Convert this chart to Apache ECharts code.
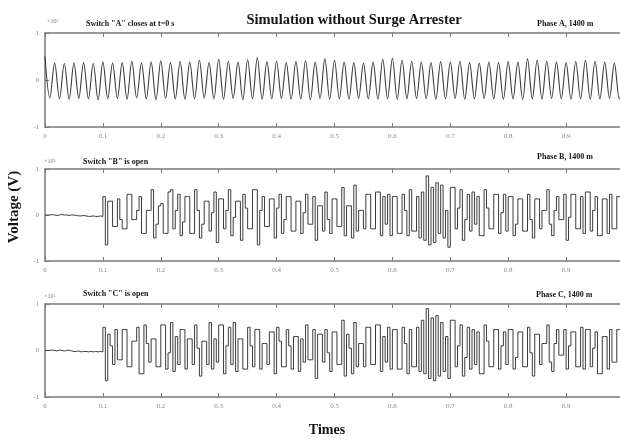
<!DOCTYPE html>
<html><head><meta charset="utf-8">
<script src="https://cdn.jsdelivr.net/npm/echarts@6/dist/echarts.min.js"></script>
<style>html,body{margin:0;padding:0;background:#fff}#c{width:620px;height:440px}</style>
</head><body><div id="c"></div>
<script>
// Phase A: extrema every half-cycle (60 Hz -> 1/120 s), units x10^5 V
const phaseA = [
0.50,-0.38,0.36,-0.40,0.35,-0.41,0.36,-0.39,0.37,-0.40,0.35,-0.42,
0.38,-0.40,0.36,-0.39,0.37,-0.41,0.40,-0.38,0.36,-0.40,0.38,-0.42,
0.41,-0.39,0.37,-0.40,0.39,-0.41,0.38,-0.40,0.42,-0.38,0.37,-0.40,
0.44,-0.41,0.40,-0.39,0.38,-0.42,0.43,-0.40,0.47,-0.41,0.39,-0.40,
0.40,-0.39,0.37,-0.41,0.39,-0.40,0.41,-0.42,0.38,-0.39,0.45,-0.41,
0.42,-0.40,0.38,-0.41,0.37,-0.39,0.36,-0.40,0.38,-0.41,0.44,-0.40,
0.46,-0.41,0.42,-0.40,0.40,-0.39,0.38,-0.40,0.37,-0.41,0.39,-0.40,
0.38,-0.39,0.40,-0.41,0.37,-0.40,0.36,-0.39,0.38,-0.40,0.37,-0.41,
0.39,-0.40,0.38,-0.42,0.45,-0.40,0.42,-0.41,0.40,-0.39,0.38,-0.40,
0.37,-0.41,0.39,-0.40,0.42,-0.41,0.40,-0.40,0.38,-0.39,0.36,-0.40,
0.38
];
// Phase B: held levels every 1/240 s, units x10^5 V
const phaseB = [
0.00,0.00,0.01,0.00,-0.01,0.00,0.01,0.00,0.00,-0.01,0.00,0.00,-0.01,-0.02,-0.02,-0.01,-0.02,-0.03,-0.03,-0.02,-0.03,-0.03,-0.02,-0.03,
0.40,-0.65,0.30,0.30,-0.25,-0.25,0.35,-0.10,-0.30,-0.30,0.45,0.45,-0.10,-0.10,0.10,0.40,-0.40,-0.40,0.10,0.10,0.55,-0.50,-0.20,0.20,
0.25,-0.40,-0.40,0.50,0.55,-0.30,0.10,0.45,-0.45,-0.15,0.40,0.40,-0.40,-0.40,0.55,0.10,-0.50,-0.20,0.30,0.30,-0.35,0.05,0.50,-0.60,
0.35,0.35,-0.30,0.10,0.55,-0.45,-0.05,0.30,0.30,-0.55,0.45,0.15,-0.30,-0.30,0.55,0.55,-0.65,0.10,0.40,-0.25,-0.25,0.35,0.35,-0.50,
0.15,0.45,-0.40,-0.10,0.40,0.40,-0.35,-0.35,0.30,0.30,-0.40,0.05,0.45,-0.20,-0.20,0.40,-0.55,0.20,0.20,-0.35,0.50,-0.10,-0.40,0.35,
0.35,-0.25,-0.25,0.60,-0.45,0.20,0.20,-0.50,0.65,-0.35,0.10,0.10,-0.30,0.45,0.45,-0.30,-0.30,0.50,0.50,-0.45,0.40,-0.20,0.45,-0.45,
0.40,0.40,-0.40,-0.40,0.45,0.10,-0.45,0.55,-0.35,-0.35,0.40,-0.50,0.50,-0.55,0.85,-0.65,0.60,-0.60,0.70,-0.40,0.65,-0.50,0.10,-0.70,
0.60,0.60,-0.30,0.15,0.55,-0.55,-0.10,0.45,-0.35,0.50,-0.20,0.40,-0.45,-0.45,0.55,0.15,-0.30,-0.30,0.45,0.45,-0.40,0.05,0.45,-0.35,
0.40,0.40,-0.45,-0.20,0.35,0.35,-0.35,-0.35,0.45,-0.10,-0.50,0.35,0.35,-0.30,0.10,0.10,0.55,-0.20,-0.45,0.10,0.40,-0.10,-0.10,0.45,
-0.55,-0.05,0.45,0.45,-0.30,-0.30,0.40,-0.40,0.50,0.50,-0.35,0.10,0.40,-0.45,-0.45,0.35,0.35,-0.40,0.45,-0.30,-0.30,0.40,0.40,-0.35,
-0.35
];
// Phase C: held levels every 1/240 s, units x10^5 V
const phaseC = [
0.00,0.00,0.01,0.00,-0.01,0.01,0.00,-0.01,0.00,0.01,-0.01,-0.02,-0.02,-0.01,-0.03,-0.02,-0.02,-0.03,-0.02,-0.03,-0.02,-0.03,-0.02,-0.03,
0.50,-0.65,0.35,0.10,-0.30,0.45,-0.20,-0.20,0.45,0.45,-0.35,-0.35,0.20,0.20,0.50,-0.50,-0.50,0.55,0.15,-0.25,0.25,0.25,-0.35,-0.35,
0.55,0.55,-0.40,-0.05,0.60,-0.45,0.30,-0.30,0.45,0.45,-0.40,0.25,0.25,-0.30,0.55,0.05,-0.55,0.20,0.20,-0.30,0.60,-0.40,0.25,-0.25,
0.55,0.55,-0.50,0.10,0.50,-0.30,0.60,-0.45,0.25,0.25,-0.40,-0.40,0.50,0.10,-0.35,0.45,0.45,-0.40,0.15,0.15,-0.30,0.40,0.40,-0.50,
0.50,0.20,-0.35,-0.35,0.45,0.10,-0.40,0.30,0.30,-0.45,0.25,-0.25,0.55,-0.20,-0.20,0.45,-0.60,0.35,0.35,-0.25,0.45,-0.05,-0.45,0.40,
0.40,-0.30,-0.30,0.65,-0.55,0.35,0.05,-0.50,0.60,-0.35,0.15,0.15,-0.35,0.50,0.50,-0.30,-0.30,0.55,0.55,-0.45,0.30,-0.25,0.50,-0.40,
0.45,0.45,-0.40,-0.40,0.50,0.15,-0.50,0.45,-0.35,-0.35,0.50,-0.45,0.65,-0.50,0.90,-0.60,0.70,-0.65,0.75,-0.55,0.60,-0.45,0.30,-0.60,
0.65,0.65,-0.35,0.10,0.55,-0.55,-0.15,0.50,-0.40,0.45,-0.30,0.40,-0.50,-0.50,0.55,0.20,-0.35,-0.35,0.45,0.45,-0.40,0.10,0.40,-0.30,
0.45,0.45,-0.40,-0.15,0.40,0.40,-0.35,-0.35,0.50,-0.05,-0.55,0.35,0.35,-0.30,0.15,0.15,0.55,-0.25,-0.45,0.15,0.45,-0.10,-0.10,0.45,
-0.40,0.10,0.40,0.40,-0.35,-0.35,0.50,-0.40,0.45,0.45,-0.35,0.05,0.40,-0.50,-0.50,0.30,0.30,-0.40,0.45,-0.25,-0.25,0.45,0.45,-0.30,
-0.30
];
const stepA = 1/120, stepBC = 1/240;
const switchLabels = ['Switch "A" closes at t=0 s', 'Switch "B" is open', 'Switch "C" is open'];
const phaseLabels = ['Phase A, 1400 m', 'Phase B, 1400 m', 'Phase C, 1400 m'];

function pairs(arr, dt){ return arr.map((v,i)=>[+(i*dt).toFixed(6), v]); }

const serif = 'Liberation Serif';
const grids = [
  {left:45, top:33, width:579, height:94, outerBoundsMode:'none', containLabel:false},
  {left:45, top:169, width:579, height:92, outerBoundsMode:'none', containLabel:false},
  {left:45, top:304, width:579, height:93, outerBoundsMode:'none', containLabel:false}
];
const axisCol = '#7a7a7a';
const xAxes = [], yAxes = [];
grids.forEach((g,i)=>{
  xAxes.push({type:'value', gridIndex:i, min:0, max:1, interval:0.1, position:'bottom',
    axisLine:{show:true, onZero:false, lineStyle:{color:axisCol, width:1.5}},
    axisTick:{show:true, inside:true, length:4, lineStyle:{color:axisCol}},
    axisLabel:{show:true, fontFamily:serif, fontSize:7, color:'#888', margin:6},
    splitLine:{show:false}});
  xAxes.push({type:'value', gridIndex:i, min:0, max:1, interval:0.1, position:'top',
    axisLine:{show:true, onZero:false, lineStyle:{color:axisCol, width:1.5}},
    axisTick:{show:true, inside:true, length:4, lineStyle:{color:axisCol}},
    axisLabel:{show:false}, splitLine:{show:false}});
  yAxes.push({type:'value', gridIndex:i, min:-1, max:1, interval:1,
    axisLine:{show:true, onZero:false, lineStyle:{color:axisCol, width:1.5}},
    axisTick:{show:true, inside:true, length:4, lineStyle:{color:axisCol}},
    axisLabel:{show:true, fontFamily:serif, fontSize:7, color:'#888', margin:6},
    splitLine:{show:false}});
});

const lineCol = '#3c3c3c';
const series = [
  {type:'line', xAxisIndex:0, yAxisIndex:0, data:pairs(phaseA, stepA), smooth:0.35, showSymbol:false,
   lineStyle:{color:lineCol, width:1.1}, animation:false},
  {type:'line', xAxisIndex:2, yAxisIndex:1, data:pairs(phaseB, stepBC), step:'end', showSymbol:false,
   lineStyle:{color:lineCol, width:1}, animation:false},
  {type:'line', xAxisIndex:4, yAxisIndex:2, data:pairs(phaseC, stepBC), step:'end', showSymbol:false,
   lineStyle:{color:lineCol, width:1}, animation:false}
];

const txt = (x,y,text,size,opts={}) => ({type:'text', x, y, style:Object.assign({text, fontFamily:serif, fontSize:size, fontWeight:'bold', fill:'#151515', textVerticalAlign:'middle'}, opts)});
const graphics = [
  txt(354, 20, 'Simulation without Surge Arrester', 14.5, {textAlign:'center'}),
  txt(86, 24, switchLabels[0], 8),
  txt(537, 24, phaseLabels[0], 8),
  txt(83, 162, switchLabels[1], 8),
  txt(537, 157, phaseLabels[1], 8),
  txt(83, 294, switchLabels[2], 8),
  txt(536, 295, phaseLabels[2], 8),
  txt(47, 21, '×10⁵', 6, {fontWeight:'normal', fill:'#777'}),
  txt(44, 161, '×10⁵', 6, {fontWeight:'normal', fill:'#777'}),
  txt(44, 296, '×10⁵', 6, {fontWeight:'normal', fill:'#777'}),
  txt(327, 430, 'Times', 14, {textAlign:'center'}),
  {type:'text', x:14, y:207, rotation:Math.PI/2,
   style:{text:'Voltage (V)', fontFamily:serif, fontSize:15, fontWeight:'bold', fill:'#151515', textAlign:'center', textVerticalAlign:'middle'}}
];

const chart = echarts.init(document.getElementById('c'), null, {renderer:'canvas'});
chart.setOption({
  animation:false,
  backgroundColor:'#fff',
  grid:grids, xAxis:xAxes, yAxis:yAxes, series, graphic:graphics
});
</script></body></html>
